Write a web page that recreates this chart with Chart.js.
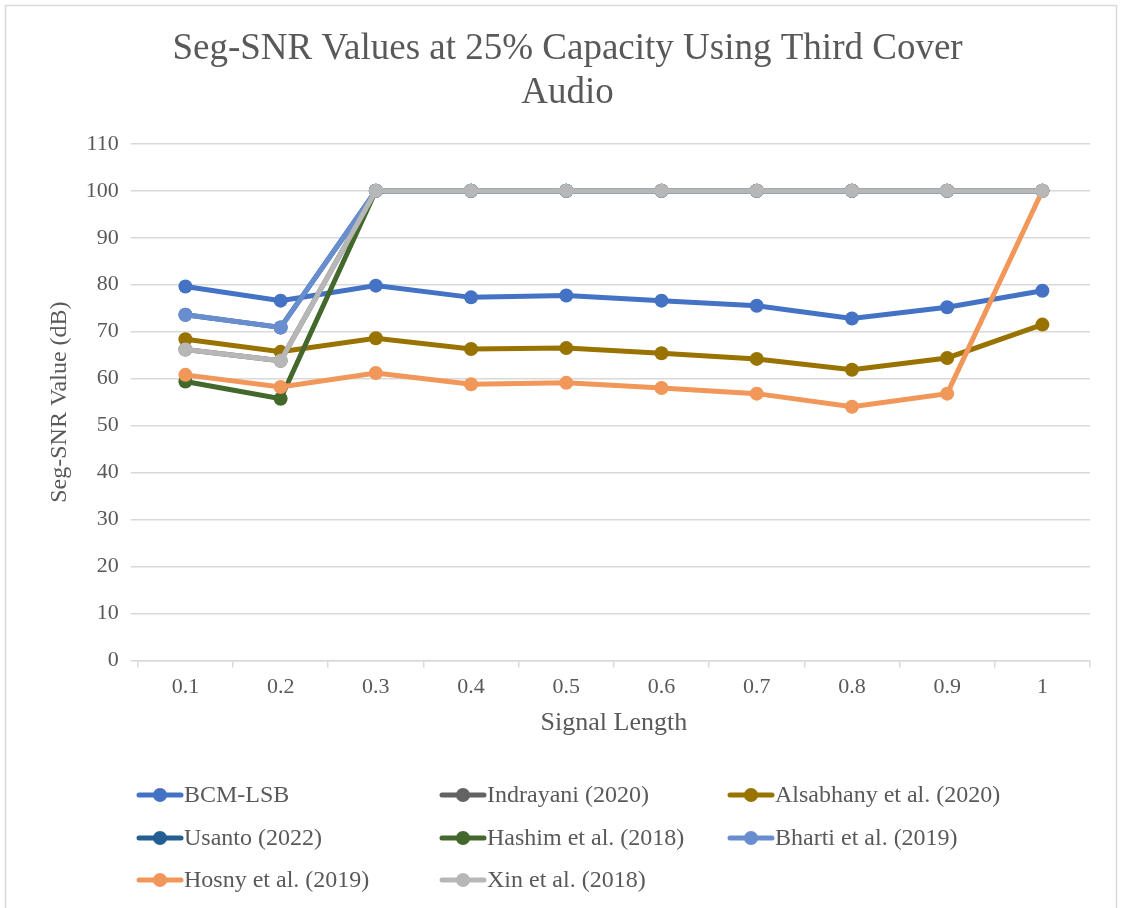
<!DOCTYPE html>
<html>
<head>
<meta charset="utf-8">
<script src="https://cdn.jsdelivr.net/npm/chart.js@4.4.1/dist/chart.umd.min.js"></script>
<style>
  html, body { margin: 0; padding: 0; background: #ffffff; }
  #wrap { position: relative; width: 1122px; height: 908px; }
</style>
</head>
<body>
<div id="wrap"><canvas id="c" width="1122" height="908"></canvas></div>
<script>
// Signal lengths on the x axis
const categories = ['0.1', '0.2', '0.3', '0.4', '0.5', '0.6', '0.7', '0.8', '0.9', '1'];

// Seg-SNR (dB) per method
const bcmLsb     = [79.6, 76.6, 79.8, 77.3, 77.7, 76.6, 75.5, 72.8, 75.2, 78.7];
const indrayani  = [66.2, 63.8, 100, 100, 100, 100, 100, 100, 100, 100];
const alsabhany  = [68.4, 65.7, 68.6, 66.3, 66.5, 65.4, 64.2, 61.9, 64.4, 71.5];
const usanto     = [73.6, 70.9, 100, 100, 100, 100, 100, 100, 100, 100];
const hashim     = [59.4, 55.7, 100, 100, 100, 100, 100, 100, 100, 100];
const bharti     = [73.6, 70.9, 100, 100, 100, 100, 100, 100, 100, 100];
const hosny      = [60.8, 58.2, 61.2, 58.8, 59.1, 58.0, 56.8, 54.0, 56.8, 100];
const xin        = [66.2, 63.8, 100, 100, 100, 100, 100, 100, 100, 100];

const yTicks = [0, 10, 20, 30, 40, 50, 60, 70, 80, 90, 100, 110];

const seriesNames = ['BCM-LSB', 'Indrayani (2020)', 'Alsabhany et al. (2020)', 'Usanto (2022)',
                     'Hashim et al. (2018)', 'Bharti et al. (2019)', 'Hosny et al. (2019)', 'Xin et al. (2018)'];
const seriesValues = [bcmLsb, indrayani, alsabhany, usanto, hashim, bharti, hosny, xin];
const seriesColors = ['#4472C4', '#636363', '#997300', '#255E91', '#43682B', '#698ED0', '#F1975A', '#B7B7B7'];

const FONT = "'Liberation Serif', 'Times New Roman', serif";
const TEXT = '#595959';
const GRID = '#d9d9d9';

const datasets = seriesNames.map((name, i) => ({
  label: name,
  data: seriesValues[i],
  borderColor: seriesColors[i],
  backgroundColor: seriesColors[i],
  borderWidth: 5,
  pointRadius: 7,
  pointHoverRadius: 7,
  pointBorderWidth: 0,
  tension: 0,
  // later series sit on top of earlier ones
  order: seriesNames.length - i
}));

// Border round the chart and a three-column legend below the axes
const framePlugin = {
  id: 'frame',
  beforeDraw(chart) {
    const ctx = chart.ctx;
    ctx.save();
    ctx.fillStyle = '#ffffff';
    ctx.fillRect(0, 0, chart.width, chart.height);
    ctx.strokeStyle = GRID;
    ctx.lineWidth = 1.5;
    ctx.strokeRect(5.5, 5.5, 1111, 920);
    ctx.restore();
  },
  afterDraw(chart) {
    const ctx = chart.ctx;
    const colX = [137, 440, 728];
    const rowY = [795, 838, 880];
    ctx.save();
    ctx.font = '24px ' + FONT;
    ctx.textBaseline = 'middle';
    ctx.textAlign = 'left';
    chart.data.datasets.forEach((ds, i) => {
      const x = colX[i % 3];
      const y = rowY[Math.floor(i / 3)];
      ctx.strokeStyle = ds.borderColor;
      ctx.lineWidth = 5;
      ctx.lineCap = 'round';
      ctx.beginPath();
      ctx.moveTo(x + 2, y);
      ctx.lineTo(x + 44, y);
      ctx.stroke();
      ctx.fillStyle = ds.borderColor;
      ctx.beginPath();
      ctx.arc(x + 23, y, 7, 0, Math.PI * 2);
      ctx.fill();
      ctx.fillStyle = TEXT;
      ctx.fillText(ds.label, x + 47, y + 1);
    });
    ctx.restore();
  }
};

new Chart(document.getElementById('c'), {
  type: 'line',
  data: { labels: categories, datasets },
  plugins: [framePlugin],
  options: {
    responsive: false,
    animation: false,
    layout: { padding: { left: 45, right: 32, top: 10, bottom: 169 } },
    plugins: {
      legend: { display: false },
      tooltip: { enabled: false },
      title: {
        display: true,
        text: ['Seg-SNR Values at 25% Capacity Using Third Cover', 'Audio'],
        color: TEXT,
        font: { family: FONT, size: 37, weight: 'normal', lineHeight: 1.2 },
        padding: { top: 17, bottom: 28 }
      }
    },
    scales: {
      x: {
        type: 'category',
        offset: true,
        grid: {
          offset: true,
          drawOnChartArea: false,
          drawTicks: true,
          tickLength: 7,
          color: GRID,
          lineWidth: 1.5
        },
        border: { display: true, color: GRID, width: 1.5 },
        ticks: { color: TEXT, font: { family: FONT, size: 22 }, padding: 7 },
        title: {
          display: true,
          text: 'Signal Length',
          color: TEXT,
          font: { family: FONT, size: 26 },
          padding: { top: 0, bottom: 0 }
        }
      },
      y: {
        min: 0,
        max: 110,
        afterBuildTicks(scale) { scale.ticks = yTicks.map(v => ({ value: v })); },
        grid: { color: GRID, lineWidth: 1.5, tickLength: 7 },
        border: { display: false },
        ticks: { color: TEXT, font: { family: FONT, size: 22 }, padding: 12 },
        title: {
          display: true,
          text: 'Seg-SNR Value (dB)',
          color: TEXT,
          font: { family: FONT, size: 24 },
          padding: { top: 0, bottom: 0 }
        }
      }
    }
  }
});
</script>
</body>
</html>
